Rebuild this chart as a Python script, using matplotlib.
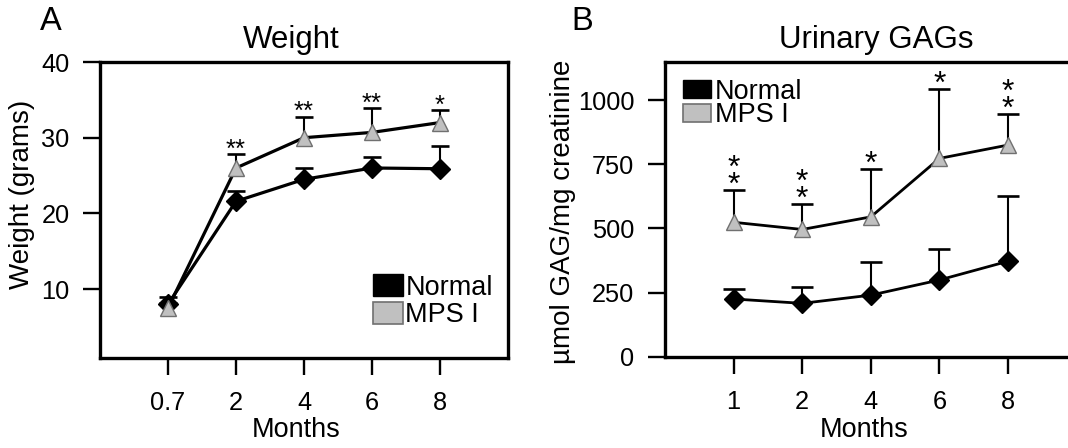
import matplotlib
matplotlib.use('Agg')
import matplotlib.pyplot as plt
from matplotlib.patches import Patch
import numpy as np

plt.rcParams['font.family'] = ['Liberation Sans', 'DejaVu Sans']

# panel A - body weight
months_a = ['0.7', '2', '4', '6', '8']
normal_w = [8.0, 21.6, 24.5, 26.0, 25.9]
normal_w_err = [0.9, 1.4, 1.5, 1.5, 3.0]
mps_w = [7.5, 26.0, 30.0, 30.7, 32.0]
mps_w_err = [0.6, 1.8, 2.8, 3.2, 1.6]
stars_w = ['', '**', '**', '**', '*']

# panel B - urinary GAGs
months_b = ['1', '2', '4', '6', '8']
normal_g = [225, 208, 240, 299, 372]
normal_g_err = [38, 62, 130, 119, 253]
mps_g = [524, 496, 545, 773, 825]
mps_g_err = [125, 98, 186, 270, 121]
stars_g = ['*\n*', '*\n*', '*', '*', '*\n*']

GRAY = '#c0c0c0'
EDGE = '#707070'

W, H = 1068, 448
fig = plt.figure(figsize=(W / 100, H / 100), dpi=100)


def px(x0, y0, w, h):
    return [x0 / W, 1 - (y0 + h) / H, w / W, h / H]


def series(ax, y, err, capw, marker, ms, fc, ec, lw, z):
    x = np.arange(len(y))
    y = np.asarray(y, float)
    top = y + np.asarray(err, float)
    ax.vlines(x, y, top, color='black', lw=1.5, zorder=z)
    ax.plot(x, top, ls='none', marker='_', ms=capw, mew=1.9, color='black', zorder=z)
    ax.plot(x, y, color='black', lw=lw, zorder=z + 1)
    ax.plot(x, y, ls='none', marker=marker, ms=ms, mfc=fc, mec=ec, mew=1.0, zorder=z + 2)
    return top


def style(ax, labels):
    for s in ax.spines.values():
        s.set_linewidth(2.4)
    ax.set_xticks(range(len(labels)))
    ax.set_xticklabels(labels)
    ax.set_xlim(-1, 5)
    ax.tick_params(direction='out', length=12, width=1.7, labelsize=18.3)
    ax.tick_params(axis='x', pad=12)
    ax.tick_params(axis='y', pad=10)


# ---- A ----
axA = fig.add_axes(px(100, 62, 408, 296))
style(axA, months_a)
axA.set_ylim(0.9, 40)
axA.set_yticks([10, 20, 30, 40])
series(axA, normal_w, normal_w_err, 12.5, 'D', 10, 'black', 'black', 2.3, 2)
capA = series(axA, mps_w, mps_w_err, 12.5, '^', 11.5, GRAY, EDGE, 2.3, 5)
for i, s in enumerate(stars_w):
    if s:
        axA.annotate(s, (i, capA[i]), xytext=(0, -2), textcoords='offset points',
                     ha='center', va='baseline', fontsize=18.5)
axA.legend(handles=[Patch(fc='black', ec='black', lw=1), Patch(fc=GRAY, ec=EDGE, lw=1.2)],
           labels=['Normal', 'MPS I'], loc='center left',
           bbox_to_anchor=(372.7 / W, 1 - 301.3 / H), bbox_transform=fig.transFigure,
           frameon=False, fontsize=19.5, handlelength=1.11, handleheight=0.85,
           handletextpad=0.1, labelspacing=0.05, borderpad=0, borderaxespad=0)

fig.text(291 / W, 1 - 40 / H, 'Weight', ha='center', va='center', fontsize=22.5)
fig.text(22 / W, 1 - 194 / H, 'Weight (grams)', ha='center', va='center',
         rotation=90, fontsize=20)
fig.text(296 / W, 1 - 430 / H, 'Months', ha='center', va='center', fontsize=19.5)
fig.text(51 / W, 1 - 21 / H, 'A', ha='center', va='center', fontsize=23.5)

# ---- B ----
axB = fig.add_axes(px(665, 61.7, 411.6, 295))
style(axB, months_b)
axB.set_ylim(0, 1150)
axB.set_yticks([0, 250, 500, 750, 1000])
series(axB, normal_g, normal_g_err, 16.5, 'D', 10, 'black', 'black', 2.0, 2)
capB = series(axB, mps_g, mps_g_err, 16.5, '^', 11.5, GRAY, EDGE, 2.0, 5)
for i, s in enumerate(stars_g):
    axB.annotate(s, (i, capB[i]), xytext=(0, -7.5), textcoords='offset points',
                 ha='center', va='bottom', fontsize=23, linespacing=0.42)
axB.legend(handles=[Patch(fc='black', ec='black', lw=1), Patch(fc=GRAY, ec=EDGE, lw=1.2)],
           labels=['Normal', 'MPS I'], loc='center left',
           bbox_to_anchor=(683 / W, 1 - 103.5 / H), bbox_transform=fig.transFigure,
           frameon=False, fontsize=19.5, handlelength=1.04, handleheight=0.67,
           handletextpad=0.15, labelspacing=-0.08, borderpad=0, borderaxespad=0)

fig.text(876 / W, 1 - 40 / H, 'Urinary GAGs', ha='center', va='center', fontsize=22.5)
fig.text(563 / W, 1 - 212 / H, 'µmol GAG/mg creatinine', ha='center', va='center',
         rotation=90, fontsize=20)
fig.text(864 / W, 1 - 430 / H, 'Months', ha='center', va='center', fontsize=19.5)
fig.text(582 / W, 1 - 22 / H, 'B', ha='center', va='center', fontsize=23.5)

fig.savefig('out.png', dpi=100)
